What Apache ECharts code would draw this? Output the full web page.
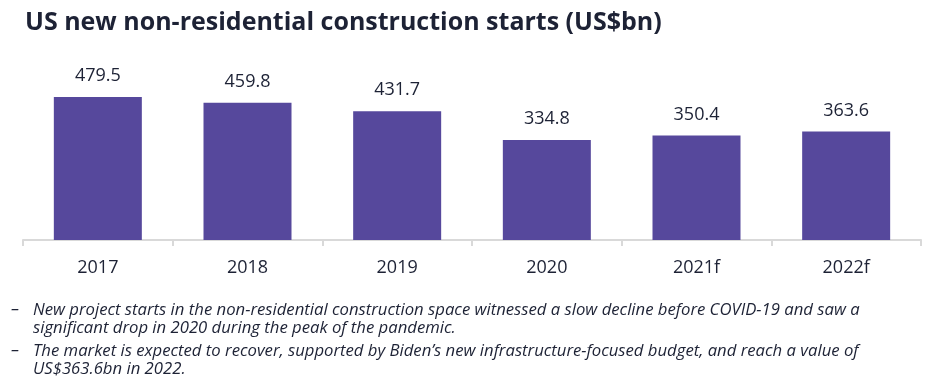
<!DOCTYPE html>
<html><head><meta charset="utf-8">
<script src="https://cdn.jsdelivr.net/npm/echarts@6/dist/echarts.min.js"></script>
<style>html,body{margin:0;padding:0;background:#fff}#c{width:931px;height:391px}</style>
</head><body><div id="c"></div>
<script>
var categories = ['2017', '2018', '2019', '2020', '2021f', '2022f'];
var values = [479.5, 459.8, 431.7, 334.8, 350.4, 363.6];
var titleText = 'US new non-residential construction starts (US$bn)';
var notes = [
  ['New project starts in the non-residential construction space witnessed a slow decline before COVID-19 and saw a',
   'significant drop in 2020 during the peak of the pandemic.'],
  ['The market is expected to recover, supported by Biden\u2019s new infrastructure-focused budget, and reach a value of',
   'US$363.6bn in 2022.']
];
var chart = echarts.init(document.getElementById('c'));
var textColor = '#1d2235';
var graphics = [];
var ys = [311, 352];
notes.forEach(function (n, i) {
  graphics.push({type: 'text', left: 11, top: ys[i] - 10, style: {text: '\u2013', font: 'italic 16.7px "Open Sans"', fill: textColor}});
  graphics.push({type: 'text', left: 33, top: ys[i] - 10, style: {text: n.join('\n'), font: 'italic 16.7px "Open Sans"', lineHeight: 18, fill: textColor}});
});
chart.setOption({
  animation: false,
  title: {text: titleText, left: 20, top: 5, textStyle: {fontFamily: 'Open Sans', fontWeight: 'bold', fontSize: 25, color: textColor}},
  grid: {left: 23, right: 10, top: 61, bottom: 151},
  xAxis: {
    type: 'category', data: categories,
    axisLine: {lineStyle: {color: '#d9d9d9', width: 2}},
    axisTick: {show: true, length: 6, lineStyle: {color: '#d9d9d9', width: 2}},
    axisLabel: {fontFamily: 'Open Sans', fontSize: 18, color: textColor, margin: 19}
  },
  yAxis: {type: 'value', min: 0, max: 600, show: false, splitLine: {show: false}},
  series: [{
    type: 'bar', data: values, barWidth: 88,
    itemStyle: {color: '#56489c'},
    label: {show: true, position: 'top', distance: 12, fontFamily: 'Open Sans', fontSize: 18, color: textColor,
      formatter: function (p) { return p.value.toFixed(1); }}
  }],
  graphic: graphics
});
</script></body></html>
